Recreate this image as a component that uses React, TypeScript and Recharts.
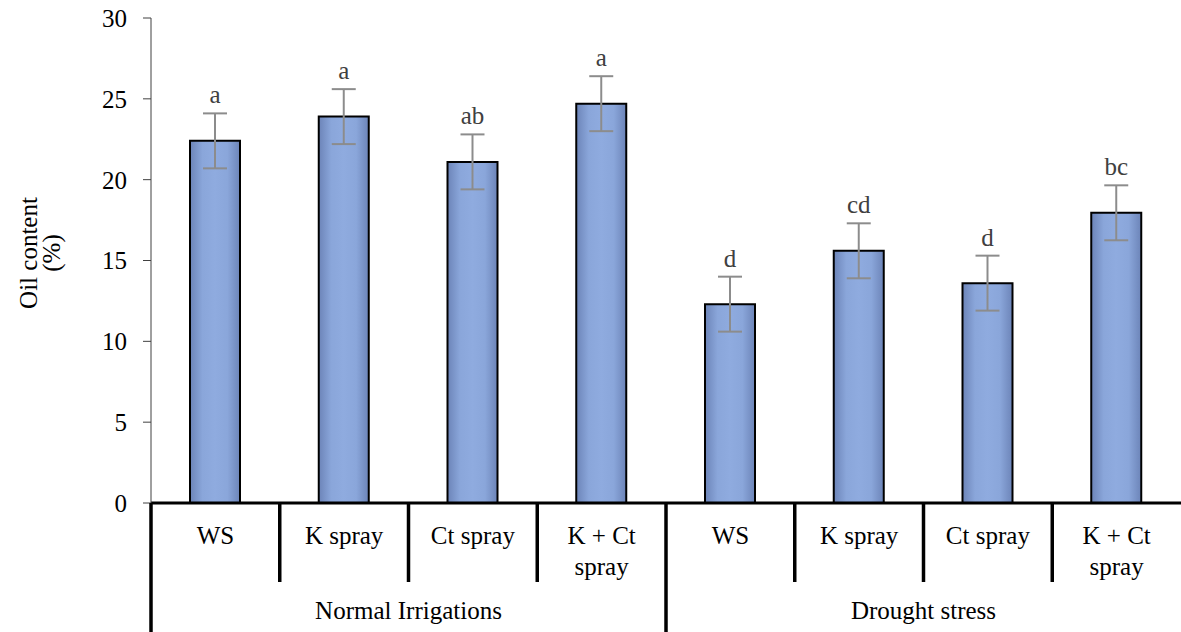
import React from "react";
import { BarChart, Bar, XAxis, YAxis, ErrorBar, LabelList, Label } from "recharts";

const treatments = ["WS", "K spray", "Ct spray", "K + Ct\nspray", "WS", "K spray", "Ct spray", "K + Ct\nspray"];
const groups = ["Normal Irrigations", "Drought stress"];
const oilContent = [22.4, 23.9, 21.1, 24.7, 12.3, 15.6, 13.6, 17.95];
const errors = [1.7, 1.7, 1.7, 1.7, 1.7, 1.7, 1.7, 1.7];
const letters = ["a", "a", "ab", "a", "d", "cd", "d", "bc"];
const yTicks = [0, 5, 10, 15, 20, 25, 30];

const data = treatments.map((t, i) => ({
  name: t,
  value: oilContent[i],
  err: errors[i],
  letter: letters[i],
}));

const W = 1181;
const H = 632;
const LEFT = 151;
const TOP = 18;
const BOTTOM_AXIS = 129;
const band = (W - LEFT) / treatments.length;
const FONT = "Liberation Serif, Times New Roman, serif";
const FS = 25;

const CategoryTick = (props: any) => {
  const { x, y, payload, index } = props;
  const lines = String(payload.value).split("\n");
  const left = x - band / 2;
  const groupStart = index % 4 === 0;
  const baseY = H - BOTTOM_AXIS;
  return (
    <g>
      <line
        x1={left}
        x2={left}
        y1={baseY}
        y2={groupStart ? H : baseY + 79}
        stroke="#000"
        strokeWidth={3.5}
      />
      {lines.map((l, k) => (
        <text
          key={k}
          x={x}
          y={baseY + 41 + k * 31}
          textAnchor="middle"
          fontFamily={FONT}
          fontSize={FS}
          fill="#000"
        >
          {l}
        </text>
      ))}
      {groupStart && (
        <text
          x={left + band * 2}
          y={baseY + 116}
          textAnchor="middle"
          fontFamily={FONT}
          fontSize={FS}
          fill="#000"
        >
          {groups[Math.floor(index / 4)]}
        </text>
      )}
    </g>
  );
};

const LetterLabel = (props: any) => {
  const { x, y, width, height, index } = props;
  const v = oilContent[index];
  const pxPerUnit = height / v;
  const errTop = y - errors[index] * pxPerUnit;
  return (
    <text
      x={x + width / 2}
      y={errTop - 10}
      textAnchor="middle"
      fontFamily={FONT}
      fontSize={FS}
      fill="#404040"
    >
      {letters[index]}
    </text>
  );
};

const YTitle = () => {
  const cx = 37;
  const cy = 253;
  return (
    <text
      transform={`rotate(-90, ${cx}, ${cy})`}
      x={cx}
      y={cy}
      textAnchor="middle"
      fontFamily={FONT}
      fontSize={FS}
      fill="#000"
    >
      <tspan x={cx} y={cy}>Oil content</tspan>
      <tspan x={cx} y={cy + 23}>(%)</tspan>
    </text>
  );
};

export default function App() {
  return (
    <div>
      <style>{`body{margin:0;}`}</style>
      <BarChart
        width={W}
        height={H}
        data={data}
        margin={{ top: TOP, right: 0, bottom: 0, left: 0 }}
        barSize={50}
      >
        <defs>
          <linearGradient id="barGrad" x1="0" y1="0" x2="1" y2="0">
            <stop offset="0%" stopColor="#6c84b8" />
            <stop offset="25%" stopColor="#8aa6da" />
            <stop offset="50%" stopColor="#8fabdf" />
            <stop offset="75%" stopColor="#8aa6da" />
            <stop offset="100%" stopColor="#6c84b8" />
          </linearGradient>
        </defs>
        <XAxis
          dataKey="name"
          height={BOTTOM_AXIS}
          tickLine={false}
          axisLine={{ stroke: "#000", strokeWidth: 3 }}
          tick={<CategoryTick />}
          interval={0}
        />
        <YAxis
          width={LEFT}
          domain={[0, 30]}
          ticks={yTicks}
          tickSize={8}
          tickMargin={16}
          axisLine={{ stroke: "#404040", strokeWidth: 1 }}
          tickLine={{ stroke: "#404040", strokeWidth: 1 }}
          tick={{ fontFamily: FONT, fontSize: FS, fill: "#000" }}
        >
          <Label content={<YTitle />} />
        </YAxis>
        <Bar
          dataKey="value"
          fill="url(#barGrad)"
          stroke="#000"
          strokeWidth={2}
          isAnimationActive={false}
        >
          <ErrorBar dataKey="err" width={12} stroke="#8c8c8c" strokeWidth={2} direction="y" />
          <LabelList dataKey="letter" content={<LetterLabel />} />
        </Bar>
      </BarChart>
    </div>
  );
}
